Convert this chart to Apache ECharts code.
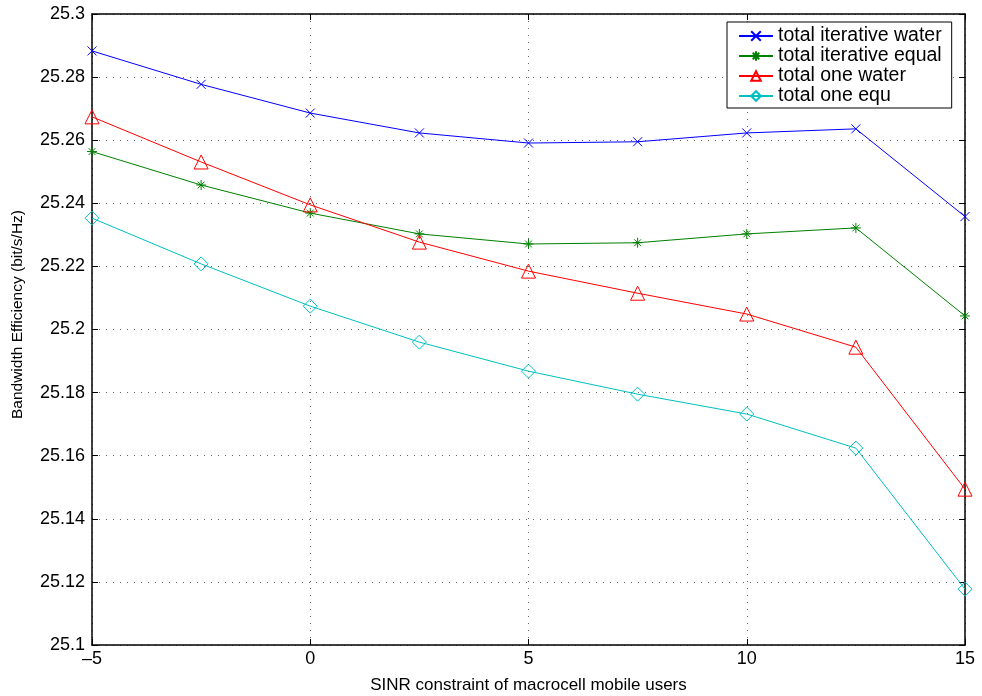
<!DOCTYPE html>
<html><head><meta charset="utf-8">
<script src="https://cdn.jsdelivr.net/npm/echarts@6/dist/echarts.min.js"></script>
<style>html,body{margin:0;padding:0;background:#fff}#c{width:982px;height:696px}</style>
</head><body><div id="c"></div>
<script>
var xValues = [-5, -2.5, 0, 2.5, 5, 7.5, 10, 12.5, 15];
var iterWater = [25.2883, 25.2777, 25.2686, 25.2623, 25.2591, 25.2595, 25.2623, 25.2636, 25.2358];
var iterEqual = [25.2564, 25.2458, 25.2369, 25.2303, 25.2271, 25.2275, 25.2303, 25.2322, 25.2043];
var oneWater = [25.2674, 25.2531, 25.2395, 25.2277, 25.2185, 25.2115, 25.2049, 25.1944, 25.1494];
var oneEqu = [25.2353, 25.2208, 25.2074, 25.1960, 25.1868, 25.1795, 25.1732, 25.1624, 25.1177];
var seriesNames = ['total iterative water', 'total iterative equal', 'total one water', 'total one equ'];
var xTicks = {min: -5, max: 15, interval: 5};
var yTicks = {min: 25.1, max: 25.3, interval: 0.02};

function pairs(ys){ return xValues.map(function(x,i){ return [x, ys[i]]; }); }
var font = 'Liberation Sans, Arial, Helvetica, sans-serif';
var symX = 'path://M0,0L10,10M10,0L0,10';
var symAst = 'path://M5,0L5,10M0,5L10,5M1.6,1.6L8.4,8.4M8.4,1.6L1.6,8.4';
function mkSeries(name, ys, color, symbol, size){
  return {
    name: name, type: 'line', data: pairs(ys), symbol: symbol, symbolSize: size,
    showAllSymbol: true, animation: false,
    lineStyle: {color: color, width: 1},
    itemStyle: {color: 'rgba(0,0,0,0)', borderColor: color, borderWidth: 1},
    emphasis: {disabled: true}
  };
}
var chart = echarts.init(document.getElementById('c'), null, {renderer: 'canvas'});
var gridLine = {show: true, lineStyle: {color: '#666', type: [1, 6], width: 1}};
chart.setOption({
  backgroundColor: '#fff',
  animation: false,
  grid: {left: 92, right: 17, top: 14, bottom: 51, containLabel: false, outerBoundsMode: 'none'},
  legend: {
    left: 727, top: 22, orient: 'vertical',
    data: seriesNames,
    itemWidth: 34, itemHeight: 12, itemGap: 0,
    backgroundColor: '#fff', borderColor: '#000', borderWidth: 1,
    padding: [4, 10, 2, 11],
    textStyle: {fontFamily: font, fontSize: 19.5, lineHeight: 20, color: '#000'}
  },
  xAxis: [{
    type: 'value', min: xTicks.min, max: xTicks.max, interval: xTicks.interval,
    name: 'SINR constraint of macrocell mobile users', nameLocation: 'middle', nameGap: 32,
    nameTextStyle: {fontFamily: font, fontSize: 17, color: '#000'},
    axisLine: {show: true, onZero: false, lineStyle: {color: '#000', width: 1.5}},
    axisTick: {show: true, inside: true, length: 6, lineStyle: {color: '#000'}},
    axisLabel: {fontFamily: font, fontSize: 18, color: '#000', margin: 5,
      formatter: function(v){ return String(v).replace('-', '\u2013'); }},
    splitLine: gridLine
  }, {
    type: 'value', position: 'top', min: xTicks.min, max: xTicks.max, interval: xTicks.interval,
    axisLine: {show: true, onZero: false, lineStyle: {color: '#000', width: 1.5}},
    axisTick: {show: true, inside: true, length: 6, lineStyle: {color: '#000'}},
    axisLabel: {show: false}, splitLine: {show: false}
  }],
  yAxis: [{
    type: 'value', min: yTicks.min, max: yTicks.max, interval: yTicks.interval,
    name: 'Bandwidth Efficiency (bit/s/Hz)', nameLocation: 'middle', nameGap: 66,
    nameTextStyle: {fontFamily: font, fontSize: 15.5, color: '#000', padding: [0, 0, 0, 30]},
    axisLine: {show: true, onZero: false, lineStyle: {color: '#000', width: 1.5}},
    axisTick: {show: true, inside: true, length: 6, lineStyle: {color: '#000'}},
    axisLabel: {fontFamily: font, fontSize: 18, color: '#000', margin: 7,
      formatter: function(v){ return String(parseFloat(v.toFixed(2))); }},
    splitLine: gridLine
  }, {
    type: 'value', position: 'right', min: yTicks.min, max: yTicks.max, interval: yTicks.interval,
    axisLine: {show: true, onZero: false, lineStyle: {color: '#000', width: 1.5}},
    axisTick: {show: true, inside: true, length: 6, lineStyle: {color: '#000'}},
    axisLabel: {show: false}, splitLine: {show: false}
  }],
  series: [
    mkSeries(seriesNames[0], iterWater, '#0000ff', symX, 9),
    mkSeries(seriesNames[1], iterEqual, '#008000', symAst, 10),
    mkSeries(seriesNames[2], oneWater, '#ff0000', 'triangle', 14),
    mkSeries(seriesNames[3], oneEqu, '#00bfbf', 'diamond', 14)
  ]
});
</script></body></html>
